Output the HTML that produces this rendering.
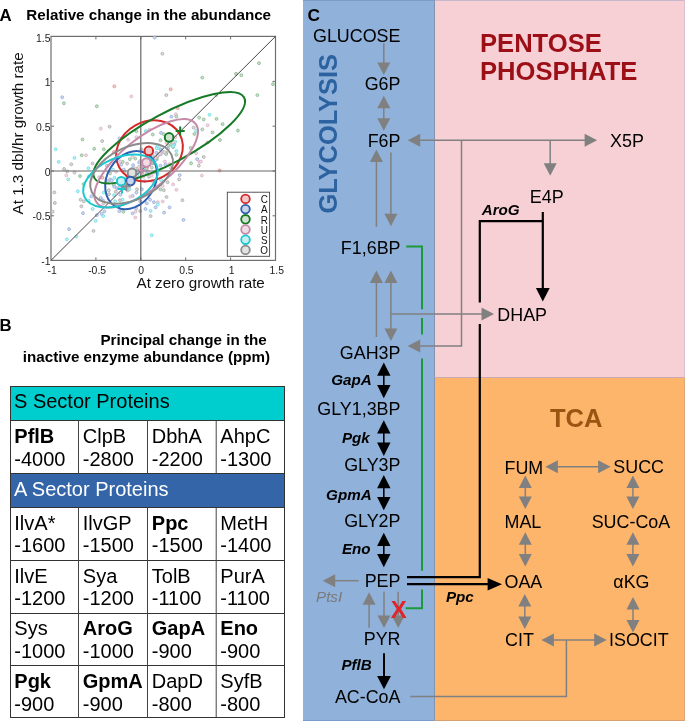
<!DOCTYPE html><html><head><meta charset="utf-8"><style>html,body{margin:0;padding:0;background:#fff;width:685px;height:721px;overflow:hidden}svg{display:block;will-change:transform;font-family:"Liberation Sans",sans-serif}</style></head><body>
<svg width="685" height="721" viewBox="0 0 685 721">
<rect x="303" y="0" width="131.5" height="721" fill="#8fb1da"/>
<rect x="434.5" y="0" width="250.5" height="377.5" fill="#f7d0d6"/>
<rect x="434.5" y="377.5" width="250.5" height="343.5" fill="#fdb46b"/>
<line x1="303.0" y1="0.5" x2="434.5" y2="0.5" stroke="#7a9cc8" stroke-width="1.00"/>
<line x1="434.5" y1="0.5" x2="684.0" y2="0.5" stroke="#c8b8cc" stroke-width="1.00"/>
<line x1="434.5" y1="0.0" x2="434.5" y2="721.0" stroke="#8294b0" stroke-width="1.00"/>
<line x1="434.5" y1="377.5" x2="684.0" y2="377.5" stroke="#c8aab0" stroke-width="1.00"/>
<line x1="684.5" y1="0.0" x2="684.5" y2="377.5" stroke="#dcc0cc" stroke-width="1.00"/>
<line x1="684.5" y1="377.5" x2="684.5" y2="721.0" stroke="#dca87a" stroke-width="1.00"/>
<line x1="303.0" y1="720.5" x2="434.5" y2="720.5" stroke="#7a9cc8" stroke-width="1.00"/>
<line x1="434.5" y1="720.5" x2="684.0" y2="720.5" stroke="#d8a070" stroke-width="1.00"/>
<text x="307.6" y="21.2" font-size="17.30" font-weight="bold" font-style="normal" fill="#000" text-anchor="start" >C</text>
<text transform="translate(336.8,213.6) rotate(-90)" font-size="25.5" font-weight="bold" fill="#2c629f">GLYCOLYSIS</text>
<text x="480.0" y="52.0" font-size="25.60" font-weight="bold" font-style="normal" fill="#9c0f17" text-anchor="start" >PENTOSE</text>
<text x="480.0" y="80.4" font-size="25.60" font-weight="bold" font-style="normal" fill="#9c0f17" text-anchor="start" >PHOSPHATE</text>
<text x="549.9" y="426.6" font-size="25.60" font-weight="bold" font-style="normal" fill="#9a5513" text-anchor="start" >TCA</text>
<text x="400.5" y="41.9" font-size="17.90" font-weight="normal" font-style="normal" fill="#000" text-anchor="end" >GLUCOSE</text>
<text x="400.5" y="90.3" font-size="17.90" font-weight="normal" font-style="normal" fill="#000" text-anchor="end" >G6P</text>
<text x="400.5" y="146.7" font-size="17.90" font-weight="normal" font-style="normal" fill="#000" text-anchor="end" >F6P</text>
<text x="400.5" y="253.6" font-size="17.90" font-weight="normal" font-style="normal" fill="#000" text-anchor="end" >F1,6BP</text>
<text x="400.5" y="358.5" font-size="17.90" font-weight="normal" font-style="normal" fill="#000" text-anchor="end" >GAH3P</text>
<text x="400.5" y="414.5" font-size="17.90" font-weight="normal" font-style="normal" fill="#000" text-anchor="end" >GLY1,3BP</text>
<text x="400.5" y="470.6" font-size="17.90" font-weight="normal" font-style="normal" fill="#000" text-anchor="end" >GLY3P</text>
<text x="400.5" y="526.9" font-size="17.90" font-weight="normal" font-style="normal" fill="#000" text-anchor="end" >GLY2P</text>
<text x="400.5" y="587.3" font-size="17.90" font-weight="normal" font-style="normal" fill="#000" text-anchor="end" >PEP</text>
<text x="400.5" y="645.2" font-size="17.90" font-weight="normal" font-style="normal" fill="#000" text-anchor="end" >PYR</text>
<text x="400.5" y="702.8" font-size="17.90" font-weight="normal" font-style="normal" fill="#000" text-anchor="end" >AC-CoA</text>
<text x="610.0" y="146.7" font-size="17.90" font-weight="normal" font-style="normal" fill="#000" text-anchor="start" >X5P</text>
<text x="529.8" y="203.4" font-size="17.90" font-weight="normal" font-style="normal" fill="#000" text-anchor="start" >E4P</text>
<text x="497.3" y="320.8" font-size="17.90" font-weight="normal" font-style="normal" fill="#000" text-anchor="start" >DHAP</text>
<text x="504.5" y="473.5" font-size="17.90" font-weight="normal" font-style="normal" fill="#000" text-anchor="start" >FUM</text>
<text x="613.3" y="472.8" font-size="17.90" font-weight="normal" font-style="normal" fill="#000" text-anchor="start" >SUCC</text>
<text x="504.5" y="527.5" font-size="17.90" font-weight="normal" font-style="normal" fill="#000" text-anchor="start" >MAL</text>
<text x="591.7" y="527.5" font-size="17.90" font-weight="normal" font-style="normal" fill="#000" text-anchor="start" >SUC-CoA</text>
<text x="504.5" y="587.8" font-size="17.90" font-weight="normal" font-style="normal" fill="#000" text-anchor="start" >OAA</text>
<text x="613.3" y="587.8" font-size="17.90" font-weight="normal" font-style="normal" fill="#000" text-anchor="start" >&#945;KG</text>
<text x="505.0" y="645.7" font-size="17.90" font-weight="normal" font-style="normal" fill="#000" text-anchor="start" >CIT</text>
<text x="609.0" y="645.7" font-size="17.90" font-weight="normal" font-style="normal" fill="#000" text-anchor="start" >ISOCIT</text>
<text x="481.7" y="215.0" font-size="15.20" font-weight="bold" font-style="italic" fill="#000" text-anchor="start" >AroG</text>
<text x="331.3" y="385.0" font-size="15.20" font-weight="bold" font-style="italic" fill="#000" text-anchor="start" >GapA</text>
<text x="341.9" y="443.0" font-size="15.20" font-weight="bold" font-style="italic" fill="#000" text-anchor="start" >Pgk</text>
<text x="326.1" y="499.9" font-size="15.20" font-weight="bold" font-style="italic" fill="#000" text-anchor="start" >GpmA</text>
<text x="341.9" y="554.4" font-size="15.20" font-weight="bold" font-style="italic" fill="#000" text-anchor="start" >Eno</text>
<text x="445.9" y="602.3" font-size="15.20" font-weight="bold" font-style="italic" fill="#000" text-anchor="start" >Ppc</text>
<text x="341.4" y="669.9" font-size="15.20" font-weight="bold" font-style="italic" fill="#000" text-anchor="start" >PflB</text>
<text x="316.0" y="601.5" font-size="15.20" font-weight="normal" font-style="italic" fill="#7a7a7a" text-anchor="start" >PtsI</text>
<line x1="383.8" y1="43.3" x2="383.8" y2="63.5" stroke="#808080" stroke-width="1.50"/><polygon points="383.8,75.0 377.3,62.5 390.3,62.5" fill="#808080"/>
<line x1="383.8" y1="107.3" x2="383.8" y2="119.3" stroke="#808080" stroke-width="1.50"/><polygon points="383.8,130.8 377.3,118.3 390.3,118.3" fill="#808080"/><polygon points="383.8,95.8 377.3,108.3 390.3,108.3" fill="#808080"/>
<line x1="376.4" y1="226.9" x2="376.4" y2="161.1" stroke="#808080" stroke-width="1.50"/><polygon points="376.4,149.6 369.9,162.1 382.9,162.1" fill="#808080"/>
<line x1="390.9" y1="152.4" x2="390.9" y2="214.7" stroke="#808080" stroke-width="1.50"/><polygon points="390.9,226.2 384.4,213.7 397.4,213.7" fill="#808080"/>
<line x1="376.4" y1="337.0" x2="376.4" y2="282.0" stroke="#808080" stroke-width="1.50"/><polygon points="376.4,270.5 369.9,283.0 382.9,283.0" fill="#808080"/>
<line x1="390.9" y1="282.0" x2="390.9" y2="329.5" stroke="#808080" stroke-width="1.50"/><polygon points="390.9,341.0 384.4,328.5 397.4,328.5" fill="#808080"/><polygon points="390.9,270.5 384.4,283.0 397.4,283.0" fill="#808080"/>
<line x1="390.9" y1="314.0" x2="482.5" y2="314.0" stroke="#808080" stroke-width="1.50"/><polygon points="494.0,314.0 481.5,307.5 481.5,320.5" fill="#808080"/>
<line x1="419.2" y1="140.3" x2="585.6" y2="140.3" stroke="#808080" stroke-width="1.50"/><polygon points="597.1,140.3 584.6,133.8 584.6,146.8" fill="#808080"/><polygon points="407.7,140.3 420.2,133.8 420.2,146.8" fill="#808080"/>
<line x1="461.5" y1="140.3" x2="461.5" y2="346.6" stroke="#808080" stroke-width="1.50"/>
<line x1="461.5" y1="346.0" x2="419.2" y2="346.0" stroke="#808080" stroke-width="1.50"/><polygon points="407.7,346.0 420.2,339.5 420.2,352.5" fill="#808080"/>
<line x1="550.2" y1="140.3" x2="550.2" y2="164.3" stroke="#808080" stroke-width="1.50"/><polygon points="550.2,175.8 543.7,163.3 556.7,163.3" fill="#808080"/>
<line x1="358.6" y1="580.7" x2="334.2" y2="580.7" stroke="#808080" stroke-width="1.50"/><polygon points="322.7,580.7 335.2,574.2 335.2,587.2" fill="#808080"/>
<line x1="369.1" y1="627.7" x2="369.1" y2="603.8" stroke="#808080" stroke-width="1.50"/><polygon points="369.1,592.3 362.6,604.8 375.6,604.8" fill="#808080"/>
<line x1="384.0" y1="591.8" x2="384.0" y2="616.5" stroke="#808080" stroke-width="1.50"/><polygon points="384.0,628.0 377.5,615.5 390.5,615.5" fill="#808080"/>
<line x1="398.2" y1="591.8" x2="398.2" y2="616.5" stroke="#808080" stroke-width="1.50"/><polygon points="398.2,628.0 391.7,615.5 404.7,615.5" fill="#808080"/>
<line x1="556.9" y1="466.8" x2="599.1" y2="466.8" stroke="#808080" stroke-width="1.50"/><polygon points="610.6,466.8 598.1,460.3 598.1,473.3" fill="#808080"/><polygon points="545.4,466.8 557.9,460.3 557.9,473.3" fill="#808080"/>
<line x1="525.3" y1="486.9" x2="525.3" y2="497.4" stroke="#808080" stroke-width="1.50"/><polygon points="525.3,508.9 518.8,496.4 531.8,496.4" fill="#808080"/><polygon points="525.3,475.4 518.8,487.9 531.8,487.9" fill="#808080"/>
<line x1="632.9" y1="486.9" x2="632.9" y2="497.4" stroke="#808080" stroke-width="1.50"/><polygon points="632.9,508.9 626.4,496.4 639.4,496.4" fill="#808080"/><polygon points="632.9,475.4 626.4,487.9 639.4,487.9" fill="#808080"/>
<line x1="525.3" y1="543.8" x2="525.3" y2="555.1" stroke="#808080" stroke-width="1.50"/><polygon points="525.3,566.6 518.8,554.1 531.8,554.1" fill="#808080"/><polygon points="525.3,532.3 518.8,544.8 531.8,544.8" fill="#808080"/>
<line x1="632.9" y1="543.8" x2="632.9" y2="555.1" stroke="#808080" stroke-width="1.50"/><polygon points="632.9,566.6 626.4,554.1 639.4,554.1" fill="#808080"/><polygon points="632.9,532.3 626.4,544.8 639.4,544.8" fill="#808080"/>
<line x1="524.8" y1="605.6" x2="524.8" y2="617.5" stroke="#808080" stroke-width="1.50"/><polygon points="524.8,629.0 518.3,616.5 531.3,616.5" fill="#808080"/><polygon points="524.8,594.1 518.3,606.6 531.3,606.6" fill="#808080"/>
<line x1="633.0" y1="608.5" x2="633.0" y2="620.9" stroke="#808080" stroke-width="1.50"/><polygon points="633.0,632.4 626.5,619.9 639.5,619.9" fill="#808080"/><polygon points="633.0,597.0 626.5,609.5 639.5,609.5" fill="#808080"/>
<line x1="552.9" y1="639.9" x2="595.2" y2="639.9" stroke="#808080" stroke-width="1.50"/><polygon points="606.7,639.9 594.2,633.4 594.2,646.4" fill="#808080"/><polygon points="541.4,639.9 553.9,633.4 553.9,646.4" fill="#808080"/>
<polyline points="410.3,696.4 566.4,696.4 566.4,639.9" fill="none" stroke="#808080" stroke-width="1.5"/>
<polyline points="406.2,246.6 422,246.6 422,309.3" fill="none" stroke="#1a9a3a" stroke-width="2"/>
<line x1="422.0" y1="318.0" x2="422.0" y2="334.4" stroke="#1a9a3a" stroke-width="2.00"/>
<line x1="422.0" y1="358.5" x2="422.0" y2="570.8" stroke="#1a9a3a" stroke-width="2.00"/>
<polyline points="422,589.6 422,608.3 405.6,608.3" fill="none" stroke="#1a9a3a" stroke-width="2"/>
<line x1="383.8" y1="374.8" x2="383.8" y2="385.9" stroke="#000" stroke-width="1.60"/><polygon points="383.8,398.2 377.1,384.9 390.5,384.9" fill="#000"/><polygon points="383.8,362.5 377.1,375.8 390.5,375.8" fill="#000"/>
<line x1="383.8" y1="432.5" x2="383.8" y2="443.6" stroke="#000" stroke-width="1.60"/><polygon points="383.8,455.9 377.1,442.6 390.5,442.6" fill="#000"/><polygon points="383.8,420.2 377.1,433.5 390.5,433.5" fill="#000"/>
<line x1="383.8" y1="487.3" x2="383.8" y2="497.9" stroke="#000" stroke-width="1.60"/><polygon points="383.8,510.2 377.1,496.9 390.5,496.9" fill="#000"/><polygon points="383.8,475.0 377.1,488.3 390.5,488.3" fill="#000"/>
<line x1="383.8" y1="545.0" x2="383.8" y2="555.0" stroke="#000" stroke-width="1.60"/><polygon points="383.8,567.3 377.1,554.0 390.5,554.0" fill="#000"/><polygon points="383.8,532.7 377.1,546.0 390.5,546.0" fill="#000"/>
<line x1="384.0" y1="653.3" x2="384.0" y2="677.0" stroke="#000" stroke-width="2.00"/><polygon points="384.0,689.2 377.1,676.0 390.9,676.0" fill="#000"/>
<line x1="542.8" y1="212.0" x2="542.8" y2="290.0" stroke="#000" stroke-width="2.20"/>
<polygon points="542.8,301.5 535.9,288.0 549.7,288.0" fill="#000"/>
<polyline points="542.8,221.2 479.8,221.2 479.8,302.4" fill="none" stroke="#000" stroke-width="2.2"/>
<polyline points="479.8,323.9 479.8,577.2 407,577.2" fill="none" stroke="#000" stroke-width="2.2"/>
<line x1="407.0" y1="584.2" x2="489.0" y2="584.2" stroke="#000" stroke-width="2.20"/>
<polygon points="502.0,584.2 487.6,577.9 487.6,590.5" fill="#000"/>
<text x="398.7" y="618.0" font-size="24.00" font-weight="bold" font-style="normal" fill="#e0242a" text-anchor="middle" >X</text>
<text x="-0.6" y="20.8" font-size="16.80" font-weight="bold" font-style="normal" fill="#000" text-anchor="start" >A</text>
<text x="26.3" y="20.1" font-size="15.20" font-weight="bold" font-style="normal" fill="#000" text-anchor="start" >Relative change in the abundance</text>
<rect x="51" y="36.4" width="224.5" height="224" fill="#fff" stroke="#6e6e6e" stroke-width="1.2"/>
<line x1="95.9" y1="260.4" x2="95.9" y2="257.4" stroke="#6e6e6e" stroke-width="1.00"/>
<line x1="95.9" y1="36.4" x2="95.9" y2="39.4" stroke="#6e6e6e" stroke-width="1.00"/>
<line x1="140.8" y1="260.4" x2="140.8" y2="257.4" stroke="#6e6e6e" stroke-width="1.00"/>
<line x1="140.8" y1="36.4" x2="140.8" y2="39.4" stroke="#6e6e6e" stroke-width="1.00"/>
<line x1="185.7" y1="260.4" x2="185.7" y2="257.4" stroke="#6e6e6e" stroke-width="1.00"/>
<line x1="185.7" y1="36.4" x2="185.7" y2="39.4" stroke="#6e6e6e" stroke-width="1.00"/>
<line x1="230.6" y1="260.4" x2="230.6" y2="257.4" stroke="#6e6e6e" stroke-width="1.00"/>
<line x1="230.6" y1="36.4" x2="230.6" y2="39.4" stroke="#6e6e6e" stroke-width="1.00"/>
<line x1="51.0" y1="215.8" x2="54.0" y2="215.8" stroke="#6e6e6e" stroke-width="1.00"/>
<line x1="275.5" y1="215.8" x2="272.5" y2="215.8" stroke="#6e6e6e" stroke-width="1.00"/>
<line x1="51.0" y1="171.0" x2="54.0" y2="171.0" stroke="#6e6e6e" stroke-width="1.00"/>
<line x1="275.5" y1="171.0" x2="272.5" y2="171.0" stroke="#6e6e6e" stroke-width="1.00"/>
<line x1="51.0" y1="126.2" x2="54.0" y2="126.2" stroke="#6e6e6e" stroke-width="1.00"/>
<line x1="275.5" y1="126.2" x2="272.5" y2="126.2" stroke="#6e6e6e" stroke-width="1.00"/>
<line x1="51.0" y1="81.4" x2="54.0" y2="81.4" stroke="#6e6e6e" stroke-width="1.00"/>
<line x1="275.5" y1="81.4" x2="272.5" y2="81.4" stroke="#6e6e6e" stroke-width="1.00"/>
<text x="50.5" y="41.6" font-size="10.40" font-weight="normal" font-style="normal" fill="#222" text-anchor="end" >1.5</text>
<text x="50.5" y="86.0" font-size="10.40" font-weight="normal" font-style="normal" fill="#222" text-anchor="end" >1</text>
<text x="50.5" y="130.8" font-size="10.40" font-weight="normal" font-style="normal" fill="#222" text-anchor="end" >0.5</text>
<text x="50.5" y="175.6" font-size="10.40" font-weight="normal" font-style="normal" fill="#222" text-anchor="end" >0</text>
<text x="50.5" y="220.4" font-size="10.40" font-weight="normal" font-style="normal" fill="#222" text-anchor="end" >-0.5</text>
<text x="50.5" y="265.2" font-size="10.40" font-weight="normal" font-style="normal" fill="#222" text-anchor="end" >-1</text>
<text x="52.2" y="274.1" font-size="10.40" font-weight="normal" font-style="normal" fill="#222" text-anchor="middle" >-1</text>
<text x="97.1" y="274.1" font-size="10.40" font-weight="normal" font-style="normal" fill="#222" text-anchor="middle" >-0.5</text>
<text x="141.2" y="274.1" font-size="10.40" font-weight="normal" font-style="normal" fill="#222" text-anchor="middle" >0</text>
<text x="186.4" y="274.1" font-size="10.40" font-weight="normal" font-style="normal" fill="#222" text-anchor="middle" >0.5</text>
<text x="231.6" y="274.1" font-size="10.40" font-weight="normal" font-style="normal" fill="#222" text-anchor="middle" >1</text>
<text x="276.8" y="274.1" font-size="10.40" font-weight="normal" font-style="normal" fill="#222" text-anchor="middle" >1.5</text>
<text x="136.5" y="288.2" font-size="15.20" font-weight="normal" font-style="normal" fill="#111" text-anchor="start" >At zero growth rate</text>
<text transform="translate(23,214.4) rotate(-90)" font-size="15.2" fill="#111">At 1.3 dbl/hr growth rate</text>
<g><circle cx="114.3" cy="86.4" r="1.45" fill="#f3cccc" stroke="#e29696" stroke-width="0.85"/><circle cx="62.2" cy="97.3" r="1.45" fill="#d0dbf0" stroke="#98aedc" stroke-width="0.85"/><circle cx="63.9" cy="103.3" r="1.45" fill="#c8e0cc" stroke="#8cbb95" stroke-width="0.85"/><circle cx="96.8" cy="106.3" r="1.45" fill="#c8e0cc" stroke="#8cbb95" stroke-width="0.85"/><circle cx="154.7" cy="37.6" r="1.45" fill="#d0dbf0" stroke="#98aedc" stroke-width="0.85"/><circle cx="162.4" cy="53.7" r="1.45" fill="#dcdcdc" stroke="#acacac" stroke-width="0.85"/><circle cx="170.7" cy="89.3" r="1.45" fill="#f3cccc" stroke="#e29696" stroke-width="0.85"/><circle cx="166.3" cy="95.1" r="1.45" fill="#dcdcdc" stroke="#acacac" stroke-width="0.85"/><circle cx="131.3" cy="96.4" r="1.45" fill="#f0dbe4" stroke="#ddb2c5" stroke-width="0.85"/><circle cx="177.7" cy="108.3" r="1.45" fill="#f3cccc" stroke="#e29696" stroke-width="0.85"/><circle cx="202.3" cy="77.6" r="1.45" fill="#c8e0cc" stroke="#8cbb95" stroke-width="0.85"/><circle cx="236.0" cy="73.8" r="1.45" fill="#c8e0cc" stroke="#8cbb95" stroke-width="0.85"/><circle cx="241.3" cy="75.2" r="1.45" fill="#c8e0cc" stroke="#8cbb95" stroke-width="0.85"/><circle cx="259.0" cy="63.2" r="1.45" fill="#c8e0cc" stroke="#8cbb95" stroke-width="0.85"/><circle cx="273.0" cy="84.2" r="1.45" fill="#c8e0cc" stroke="#8cbb95" stroke-width="0.85"/><circle cx="257.4" cy="95.1" r="1.45" fill="#c8e0cc" stroke="#8cbb95" stroke-width="0.85"/><circle cx="216.3" cy="95.1" r="1.45" fill="#c8e0cc" stroke="#8cbb95" stroke-width="0.85"/><circle cx="109.6" cy="126.7" r="1.45" fill="#dcdcdc" stroke="#acacac" stroke-width="0.85"/><circle cx="100.8" cy="128.7" r="1.45" fill="#f0dbe4" stroke="#ddb2c5" stroke-width="0.85"/><circle cx="119.4" cy="138.4" r="1.45" fill="#d0dbf0" stroke="#98aedc" stroke-width="0.85"/><circle cx="82.5" cy="139.5" r="1.45" fill="#c8e0cc" stroke="#8cbb95" stroke-width="0.85"/><circle cx="102.2" cy="141.1" r="1.45" fill="#dcdcdc" stroke="#acacac" stroke-width="0.85"/><circle cx="55.6" cy="149.3" r="1.45" fill="#c0f2f5" stroke="#70dde4" stroke-width="0.85"/><circle cx="94.2" cy="148.8" r="1.45" fill="#c8e0cc" stroke="#8cbb95" stroke-width="0.85"/><circle cx="103.8" cy="149.3" r="1.45" fill="#c8e0cc" stroke="#8cbb95" stroke-width="0.85"/><circle cx="81.7" cy="155.3" r="1.45" fill="#c8e0cc" stroke="#8cbb95" stroke-width="0.85"/><circle cx="86.0" cy="155.3" r="1.45" fill="#f0dbe4" stroke="#ddb2c5" stroke-width="0.85"/><circle cx="74.5" cy="157.9" r="1.45" fill="#c0f2f5" stroke="#70dde4" stroke-width="0.85"/><circle cx="58.7" cy="161.9" r="1.45" fill="#c0f2f5" stroke="#70dde4" stroke-width="0.85"/><circle cx="71.3" cy="164.3" r="1.45" fill="#dcdcdc" stroke="#acacac" stroke-width="0.85"/><circle cx="92.6" cy="163.6" r="1.45" fill="#dcdcdc" stroke="#acacac" stroke-width="0.85"/><circle cx="88.4" cy="168.3" r="1.45" fill="#c0f2f5" stroke="#70dde4" stroke-width="0.85"/><circle cx="64.1" cy="169.0" r="1.45" fill="#dcdcdc" stroke="#acacac" stroke-width="0.85"/><circle cx="67.2" cy="171.4" r="1.45" fill="#dcdcdc" stroke="#acacac" stroke-width="0.85"/><circle cx="74.5" cy="172.5" r="1.45" fill="#dcdcdc" stroke="#acacac" stroke-width="0.85"/><circle cx="66.3" cy="175.4" r="1.45" fill="#f0dbe4" stroke="#ddb2c5" stroke-width="0.85"/><circle cx="80.0" cy="176.1" r="1.45" fill="#c8e0cc" stroke="#8cbb95" stroke-width="0.85"/><circle cx="68.3" cy="179.4" r="1.45" fill="#c0f2f5" stroke="#70dde4" stroke-width="0.85"/><circle cx="83.6" cy="184.1" r="1.45" fill="#c8e0cc" stroke="#8cbb95" stroke-width="0.85"/><circle cx="114.0" cy="152.0" r="1.45" fill="#f3cccc" stroke="#e29696" stroke-width="0.85"/><circle cx="88.8" cy="176.7" r="1.45" fill="#c0f2f5" stroke="#70dde4" stroke-width="0.85"/><circle cx="110.1" cy="173.4" r="1.45" fill="#c8e0cc" stroke="#8cbb95" stroke-width="0.85"/><circle cx="116.1" cy="171.8" r="1.45" fill="#f0dbe4" stroke="#ddb2c5" stroke-width="0.85"/><circle cx="112.9" cy="169.6" r="1.45" fill="#c0f2f5" stroke="#70dde4" stroke-width="0.85"/><circle cx="106.8" cy="165.7" r="1.45" fill="#d0dbf0" stroke="#98aedc" stroke-width="0.85"/><circle cx="121.1" cy="164.7" r="1.45" fill="#d0dbf0" stroke="#98aedc" stroke-width="0.85"/><circle cx="122.7" cy="161.9" r="1.45" fill="#c8e0cc" stroke="#8cbb95" stroke-width="0.85"/><circle cx="120.0" cy="161.4" r="1.45" fill="#f0dbe4" stroke="#ddb2c5" stroke-width="0.85"/><circle cx="123.8" cy="169.6" r="1.45" fill="#d0dbf0" stroke="#98aedc" stroke-width="0.85"/><circle cx="99.2" cy="177.2" r="1.45" fill="#f0dbe4" stroke="#ddb2c5" stroke-width="0.85"/><circle cx="102.5" cy="177.8" r="1.45" fill="#f3cccc" stroke="#e29696" stroke-width="0.85"/><circle cx="110.1" cy="179.4" r="1.45" fill="#d0dbf0" stroke="#98aedc" stroke-width="0.85"/><circle cx="114.5" cy="177.8" r="1.45" fill="#c0f2f5" stroke="#70dde4" stroke-width="0.85"/><circle cx="107.9" cy="181.1" r="1.45" fill="#dcdcdc" stroke="#acacac" stroke-width="0.85"/><circle cx="111.8" cy="180.5" r="1.45" fill="#d0dbf0" stroke="#98aedc" stroke-width="0.85"/><circle cx="171.4" cy="116.7" r="1.45" fill="#d0dbf0" stroke="#98aedc" stroke-width="0.85"/><circle cx="175.8" cy="114.3" r="1.45" fill="#f0dbe4" stroke="#ddb2c5" stroke-width="0.85"/><circle cx="176.4" cy="116.5" r="1.45" fill="#c8e0cc" stroke="#8cbb95" stroke-width="0.85"/><circle cx="199.1" cy="117.6" r="1.45" fill="#c8e0cc" stroke="#8cbb95" stroke-width="0.85"/><circle cx="145.9" cy="131.0" r="1.45" fill="#c0f2f5" stroke="#70dde4" stroke-width="0.85"/><circle cx="149.5" cy="129.6" r="1.45" fill="#f0dbe4" stroke="#ddb2c5" stroke-width="0.85"/><circle cx="136.4" cy="131.3" r="1.45" fill="#c8e0cc" stroke="#8cbb95" stroke-width="0.85"/><circle cx="136.4" cy="137.1" r="1.45" fill="#f0dbe4" stroke="#ddb2c5" stroke-width="0.85"/><circle cx="152.8" cy="134.5" r="1.45" fill="#c8e0cc" stroke="#8cbb95" stroke-width="0.85"/><circle cx="161.0" cy="132.9" r="1.45" fill="#d0dbf0" stroke="#98aedc" stroke-width="0.85"/><circle cx="163.8" cy="134.2" r="1.45" fill="#c8e0cc" stroke="#8cbb95" stroke-width="0.85"/><circle cx="128.2" cy="139.7" r="1.45" fill="#f0dbe4" stroke="#ddb2c5" stroke-width="0.85"/><circle cx="160.5" cy="140.3" r="1.45" fill="#c8e0cc" stroke="#8cbb95" stroke-width="0.85"/><circle cx="175.3" cy="141.7" r="1.45" fill="#c0f2f5" stroke="#70dde4" stroke-width="0.85"/><circle cx="174.2" cy="144.4" r="1.45" fill="#c8e0cc" stroke="#8cbb95" stroke-width="0.85"/><circle cx="170.9" cy="144.9" r="1.45" fill="#c8e0cc" stroke="#8cbb95" stroke-width="0.85"/><circle cx="173.1" cy="147.1" r="1.45" fill="#c8e0cc" stroke="#8cbb95" stroke-width="0.85"/><circle cx="168.2" cy="145.5" r="1.45" fill="#c8e0cc" stroke="#8cbb95" stroke-width="0.85"/><circle cx="166.5" cy="142.8" r="1.45" fill="#f0dbe4" stroke="#ddb2c5" stroke-width="0.85"/><circle cx="157.2" cy="146.6" r="1.45" fill="#c0f2f5" stroke="#70dde4" stroke-width="0.85"/><circle cx="156.7" cy="148.2" r="1.45" fill="#c0f2f5" stroke="#70dde4" stroke-width="0.85"/><circle cx="166.5" cy="152.6" r="1.45" fill="#c8e0cc" stroke="#8cbb95" stroke-width="0.85"/><circle cx="176.4" cy="151.0" r="1.45" fill="#c0f2f5" stroke="#70dde4" stroke-width="0.85"/><circle cx="176.4" cy="154.8" r="1.45" fill="#c8e0cc" stroke="#8cbb95" stroke-width="0.85"/><circle cx="156.7" cy="159.2" r="1.45" fill="#c8e0cc" stroke="#8cbb95" stroke-width="0.85"/><circle cx="160.5" cy="165.7" r="1.45" fill="#d0dbf0" stroke="#98aedc" stroke-width="0.85"/><circle cx="164.9" cy="161.6" r="1.45" fill="#f0dbe4" stroke="#ddb2c5" stroke-width="0.85"/><circle cx="165.4" cy="164.7" r="1.45" fill="#d0dbf0" stroke="#98aedc" stroke-width="0.85"/><circle cx="169.2" cy="164.1" r="1.45" fill="#f0dbe4" stroke="#ddb2c5" stroke-width="0.85"/><circle cx="170.9" cy="167.9" r="1.45" fill="#f0dbe4" stroke="#ddb2c5" stroke-width="0.85"/><circle cx="190.6" cy="148.0" r="1.45" fill="#c8e0cc" stroke="#8cbb95" stroke-width="0.85"/><circle cx="196.1" cy="153.2" r="1.45" fill="#f0dbe4" stroke="#ddb2c5" stroke-width="0.85"/><circle cx="194.4" cy="134.0" r="1.45" fill="#c8e0cc" stroke="#8cbb95" stroke-width="0.85"/><circle cx="196.1" cy="130.7" r="1.45" fill="#c0f2f5" stroke="#70dde4" stroke-width="0.85"/><circle cx="197.2" cy="159.2" r="1.45" fill="#d0dbf0" stroke="#98aedc" stroke-width="0.85"/><circle cx="199.4" cy="161.9" r="1.45" fill="#f0dbe4" stroke="#ddb2c5" stroke-width="0.85"/><circle cx="198.8" cy="165.7" r="1.45" fill="#dcdcdc" stroke="#acacac" stroke-width="0.85"/><circle cx="191.1" cy="163.3" r="1.45" fill="#c8e0cc" stroke="#8cbb95" stroke-width="0.85"/><circle cx="179.7" cy="175.1" r="1.45" fill="#d0dbf0" stroke="#98aedc" stroke-width="0.85"/><circle cx="179.1" cy="179.4" r="1.45" fill="#dcdcdc" stroke="#acacac" stroke-width="0.85"/><circle cx="167.6" cy="182.2" r="1.45" fill="#dcdcdc" stroke="#acacac" stroke-width="0.85"/><circle cx="173.1" cy="184.4" r="1.45" fill="#f0dbe4" stroke="#ddb2c5" stroke-width="0.85"/><circle cx="161.0" cy="180.0" r="1.45" fill="#c0f2f5" stroke="#70dde4" stroke-width="0.85"/><circle cx="129.8" cy="159.2" r="1.45" fill="#c8e0cc" stroke="#8cbb95" stroke-width="0.85"/><circle cx="135.3" cy="158.6" r="1.45" fill="#c8e0cc" stroke="#8cbb95" stroke-width="0.85"/><circle cx="132.6" cy="157.0" r="1.45" fill="#f0dbe4" stroke="#ddb2c5" stroke-width="0.85"/><circle cx="133.1" cy="165.2" r="1.45" fill="#d0dbf0" stroke="#98aedc" stroke-width="0.85"/><circle cx="139.1" cy="162.5" r="1.45" fill="#d0dbf0" stroke="#98aedc" stroke-width="0.85"/><circle cx="127.1" cy="163.6" r="1.45" fill="#dcdcdc" stroke="#acacac" stroke-width="0.85"/><circle cx="136.9" cy="176.7" r="1.45" fill="#f0dbe4" stroke="#ddb2c5" stroke-width="0.85"/><circle cx="143.5" cy="176.7" r="1.45" fill="#f0dbe4" stroke="#ddb2c5" stroke-width="0.85"/><circle cx="144.6" cy="181.1" r="1.45" fill="#d0dbf0" stroke="#98aedc" stroke-width="0.85"/><circle cx="149.0" cy="176.7" r="1.45" fill="#dcdcdc" stroke="#acacac" stroke-width="0.85"/><circle cx="152.3" cy="181.1" r="1.45" fill="#f0dbe4" stroke="#ddb2c5" stroke-width="0.85"/><circle cx="151.7" cy="175.6" r="1.45" fill="#f0dbe4" stroke="#ddb2c5" stroke-width="0.85"/><circle cx="147.9" cy="171.2" r="1.45" fill="#f0dbe4" stroke="#ddb2c5" stroke-width="0.85"/><circle cx="146.8" cy="173.4" r="1.45" fill="#d0dbf0" stroke="#98aedc" stroke-width="0.85"/><circle cx="154.5" cy="172.3" r="1.45" fill="#dcdcdc" stroke="#acacac" stroke-width="0.85"/><circle cx="141.3" cy="149.3" r="1.45" fill="#dcdcdc" stroke="#acacac" stroke-width="0.85"/><circle cx="152.8" cy="155.9" r="1.45" fill="#d0dbf0" stroke="#98aedc" stroke-width="0.85"/><circle cx="147.9" cy="156.4" r="1.45" fill="#d0dbf0" stroke="#98aedc" stroke-width="0.85"/><circle cx="209.5" cy="114.8" r="1.45" fill="#c0f2f5" stroke="#70dde4" stroke-width="0.85"/><circle cx="203.7" cy="119.5" r="1.45" fill="#c8e0cc" stroke="#8cbb95" stroke-width="0.85"/><circle cx="216.5" cy="118.9" r="1.45" fill="#c8e0cc" stroke="#8cbb95" stroke-width="0.85"/><circle cx="222.6" cy="124.1" r="1.45" fill="#c8e0cc" stroke="#8cbb95" stroke-width="0.85"/><circle cx="207.6" cy="125.2" r="1.45" fill="#f0dbe4" stroke="#ddb2c5" stroke-width="0.85"/><circle cx="202.3" cy="129.4" r="1.45" fill="#c8e0cc" stroke="#8cbb95" stroke-width="0.85"/><circle cx="212.5" cy="132.4" r="1.45" fill="#c8e0cc" stroke="#8cbb95" stroke-width="0.85"/><circle cx="237.9" cy="130.5" r="1.45" fill="#c8e0cc" stroke="#8cbb95" stroke-width="0.85"/><circle cx="219.9" cy="140.0" r="1.45" fill="#c8e0cc" stroke="#8cbb95" stroke-width="0.85"/><circle cx="207.6" cy="142.5" r="1.45" fill="#f3cccc" stroke="#e29696" stroke-width="0.85"/><circle cx="203.7" cy="157.0" r="1.45" fill="#dcdcdc" stroke="#acacac" stroke-width="0.85"/><circle cx="219.6" cy="170.5" r="1.45" fill="#f3cccc" stroke="#e29696" stroke-width="0.85"/><circle cx="201.9" cy="175.6" r="1.45" fill="#f0dbe4" stroke="#ddb2c5" stroke-width="0.85"/><circle cx="201.0" cy="161.6" r="1.45" fill="#f0dbe4" stroke="#ddb2c5" stroke-width="0.85"/><circle cx="54.3" cy="192.4" r="1.45" fill="#dcdcdc" stroke="#acacac" stroke-width="0.85"/><circle cx="77.8" cy="191.3" r="1.45" fill="#c0f2f5" stroke="#70dde4" stroke-width="0.85"/><circle cx="54.8" cy="203.0" r="1.45" fill="#dcdcdc" stroke="#acacac" stroke-width="0.85"/><circle cx="80.6" cy="199.7" r="1.45" fill="#dcdcdc" stroke="#acacac" stroke-width="0.85"/><circle cx="83.8" cy="201.3" r="1.45" fill="#dcdcdc" stroke="#acacac" stroke-width="0.85"/><circle cx="88.8" cy="200.8" r="1.45" fill="#c0f2f5" stroke="#70dde4" stroke-width="0.85"/><circle cx="91.3" cy="196.4" r="1.45" fill="#d0dbf0" stroke="#98aedc" stroke-width="0.85"/><circle cx="81.4" cy="206.3" r="1.45" fill="#dcdcdc" stroke="#acacac" stroke-width="0.85"/><circle cx="52.6" cy="211.7" r="1.45" fill="#dcdcdc" stroke="#acacac" stroke-width="0.85"/><circle cx="83.0" cy="213.2" r="1.45" fill="#d0dbf0" stroke="#98aedc" stroke-width="0.85"/><circle cx="92.6" cy="209.0" r="1.45" fill="#c0f2f5" stroke="#70dde4" stroke-width="0.85"/><circle cx="96.8" cy="215.3" r="1.45" fill="#d0dbf0" stroke="#98aedc" stroke-width="0.85"/><circle cx="95.7" cy="220.8" r="1.45" fill="#c0f2f5" stroke="#70dde4" stroke-width="0.85"/><circle cx="101.6" cy="213.9" r="1.45" fill="#d0dbf0" stroke="#98aedc" stroke-width="0.85"/><circle cx="103.3" cy="216.1" r="1.45" fill="#c0f2f5" stroke="#70dde4" stroke-width="0.85"/><circle cx="104.4" cy="211.4" r="1.45" fill="#d0dbf0" stroke="#98aedc" stroke-width="0.85"/><circle cx="100.8" cy="198.0" r="1.45" fill="#d0dbf0" stroke="#98aedc" stroke-width="0.85"/><circle cx="103.6" cy="192.6" r="1.45" fill="#c0f2f5" stroke="#70dde4" stroke-width="0.85"/><circle cx="69.1" cy="229.2" r="1.45" fill="#d0dbf0" stroke="#98aedc" stroke-width="0.85"/><circle cx="93.5" cy="230.9" r="1.45" fill="#dcdcdc" stroke="#acacac" stroke-width="0.85"/><circle cx="76.4" cy="236.6" r="1.45" fill="#c0f2f5" stroke="#70dde4" stroke-width="0.85"/><circle cx="66.9" cy="239.4" r="1.45" fill="#c0f2f5" stroke="#70dde4" stroke-width="0.85"/><circle cx="119.4" cy="211.2" r="1.45" fill="#d0dbf0" stroke="#98aedc" stroke-width="0.85"/><circle cx="123.3" cy="211.7" r="1.45" fill="#c8e0cc" stroke="#8cbb95" stroke-width="0.85"/><circle cx="109.0" cy="194.2" r="1.45" fill="#dcdcdc" stroke="#acacac" stroke-width="0.85"/><circle cx="115.1" cy="201.3" r="1.45" fill="#c0f2f5" stroke="#70dde4" stroke-width="0.85"/><circle cx="122.7" cy="199.7" r="1.45" fill="#c0f2f5" stroke="#70dde4" stroke-width="0.85"/><circle cx="120.0" cy="200.2" r="1.45" fill="#dcdcdc" stroke="#acacac" stroke-width="0.85"/><circle cx="120.5" cy="194.8" r="1.45" fill="#d0dbf0" stroke="#98aedc" stroke-width="0.85"/><circle cx="114.0" cy="195.3" r="1.45" fill="#c0f2f5" stroke="#70dde4" stroke-width="0.85"/><circle cx="137.0" cy="189.3" r="1.45" fill="#dcdcdc" stroke="#acacac" stroke-width="0.85"/><circle cx="141.9" cy="189.3" r="1.45" fill="#d0dbf0" stroke="#98aedc" stroke-width="0.85"/><circle cx="160.5" cy="189.5" r="1.45" fill="#c8e0cc" stroke="#8cbb95" stroke-width="0.85"/><circle cx="163.8" cy="190.2" r="1.45" fill="#dcdcdc" stroke="#acacac" stroke-width="0.85"/><circle cx="176.4" cy="189.8" r="1.45" fill="#f0dbe4" stroke="#ddb2c5" stroke-width="0.85"/><circle cx="162.7" cy="186.0" r="1.45" fill="#f0dbe4" stroke="#ddb2c5" stroke-width="0.85"/><circle cx="166.5" cy="197.0" r="1.45" fill="#dcdcdc" stroke="#acacac" stroke-width="0.85"/><circle cx="182.4" cy="200.2" r="1.45" fill="#dcdcdc" stroke="#acacac" stroke-width="0.85"/><circle cx="162.7" cy="201.5" r="1.45" fill="#f0dbe4" stroke="#ddb2c5" stroke-width="0.85"/><circle cx="136.4" cy="192.6" r="1.45" fill="#d0dbf0" stroke="#98aedc" stroke-width="0.85"/><circle cx="132.6" cy="195.9" r="1.45" fill="#d0dbf0" stroke="#98aedc" stroke-width="0.85"/><circle cx="130.4" cy="196.7" r="1.45" fill="#f0dbe4" stroke="#ddb2c5" stroke-width="0.85"/><circle cx="140.2" cy="201.3" r="1.45" fill="#d0dbf0" stroke="#98aedc" stroke-width="0.85"/><circle cx="150.1" cy="199.7" r="1.45" fill="#d0dbf0" stroke="#98aedc" stroke-width="0.85"/><circle cx="146.8" cy="203.3" r="1.45" fill="#d0dbf0" stroke="#98aedc" stroke-width="0.85"/><circle cx="153.9" cy="202.2" r="1.45" fill="#d0dbf0" stroke="#98aedc" stroke-width="0.85"/><circle cx="157.8" cy="202.2" r="1.45" fill="#f0dbe4" stroke="#ddb2c5" stroke-width="0.85"/><circle cx="157.8" cy="204.4" r="1.45" fill="#c0f2f5" stroke="#70dde4" stroke-width="0.85"/><circle cx="155.6" cy="207.4" r="1.45" fill="#d0dbf0" stroke="#98aedc" stroke-width="0.85"/><circle cx="169.6" cy="207.4" r="1.45" fill="#d0dbf0" stroke="#98aedc" stroke-width="0.85"/><circle cx="145.5" cy="209.0" r="1.45" fill="#d0dbf0" stroke="#98aedc" stroke-width="0.85"/><circle cx="136.1" cy="208.4" r="1.45" fill="#d0dbf0" stroke="#98aedc" stroke-width="0.85"/><circle cx="135.6" cy="211.7" r="1.45" fill="#f0dbe4" stroke="#ddb2c5" stroke-width="0.85"/><circle cx="132.6" cy="213.4" r="1.45" fill="#d0dbf0" stroke="#98aedc" stroke-width="0.85"/><circle cx="140.2" cy="211.0" r="1.45" fill="#dcdcdc" stroke="#acacac" stroke-width="0.85"/><circle cx="150.6" cy="211.0" r="1.45" fill="#c0f2f5" stroke="#70dde4" stroke-width="0.85"/><circle cx="164.1" cy="212.6" r="1.45" fill="#d0dbf0" stroke="#98aedc" stroke-width="0.85"/><circle cx="135.3" cy="217.5" r="1.45" fill="#f0dbe4" stroke="#ddb2c5" stroke-width="0.85"/><circle cx="150.6" cy="216.1" r="1.45" fill="#dcdcdc" stroke="#acacac" stroke-width="0.85"/><circle cx="183.5" cy="219.9" r="1.45" fill="#d0dbf0" stroke="#98aedc" stroke-width="0.85"/><circle cx="151.7" cy="235.3" r="1.45" fill="#c0f2f5" stroke="#70dde4" stroke-width="0.85"/><circle cx="129.3" cy="189.3" r="1.45" fill="#c0f2f5" stroke="#70dde4" stroke-width="0.85"/><circle cx="127.6" cy="190.4" r="1.45" fill="#dcdcdc" stroke="#acacac" stroke-width="0.85"/><circle cx="129.8" cy="179.9" r="1.45" fill="#c0f2f5" stroke="#70dde4" stroke-width="0.85"/><circle cx="153.0" cy="163.4" r="1.45" fill="#c8e0cc" stroke="#8cbb95" stroke-width="0.85"/><circle cx="153.9" cy="162.3" r="1.45" fill="#f3cccc" stroke="#e29696" stroke-width="0.85"/><circle cx="130.9" cy="177.7" r="1.45" fill="#d0dbf0" stroke="#98aedc" stroke-width="0.85"/><circle cx="103.0" cy="200.5" r="1.45" fill="#d0dbf0" stroke="#98aedc" stroke-width="0.85"/><circle cx="131.7" cy="182.1" r="1.45" fill="#dcdcdc" stroke="#acacac" stroke-width="0.85"/><circle cx="126.2" cy="178.5" r="1.45" fill="#dcdcdc" stroke="#acacac" stroke-width="0.85"/><circle cx="166.2" cy="154.1" r="1.45" fill="#c8e0cc" stroke="#8cbb95" stroke-width="0.85"/><circle cx="140.4" cy="171.9" r="1.45" fill="#c8e0cc" stroke="#8cbb95" stroke-width="0.85"/><circle cx="146.7" cy="163.5" r="1.45" fill="#f0dbe4" stroke="#ddb2c5" stroke-width="0.85"/><circle cx="132.9" cy="172.7" r="1.45" fill="#f0dbe4" stroke="#ddb2c5" stroke-width="0.85"/><circle cx="142.6" cy="169.3" r="1.45" fill="#d0dbf0" stroke="#98aedc" stroke-width="0.85"/><circle cx="137.4" cy="168.5" r="1.45" fill="#c8e0cc" stroke="#8cbb95" stroke-width="0.85"/><circle cx="126.0" cy="178.3" r="1.45" fill="#c8e0cc" stroke="#8cbb95" stroke-width="0.85"/><circle cx="156.4" cy="152.8" r="1.45" fill="#d0dbf0" stroke="#98aedc" stroke-width="0.85"/><circle cx="123.4" cy="180.2" r="1.45" fill="#dcdcdc" stroke="#acacac" stroke-width="0.85"/><circle cx="142.3" cy="165.7" r="1.45" fill="#dcdcdc" stroke="#acacac" stroke-width="0.85"/><circle cx="145.9" cy="169.2" r="1.45" fill="#c0f2f5" stroke="#70dde4" stroke-width="0.85"/><circle cx="142.4" cy="172.6" r="1.45" fill="#f3cccc" stroke="#e29696" stroke-width="0.85"/><circle cx="134.7" cy="168.4" r="1.45" fill="#f0dbe4" stroke="#ddb2c5" stroke-width="0.85"/><circle cx="153.1" cy="158.7" r="1.45" fill="#c0f2f5" stroke="#70dde4" stroke-width="0.85"/><circle cx="124.7" cy="178.5" r="1.45" fill="#f0dbe4" stroke="#ddb2c5" stroke-width="0.85"/><circle cx="175.2" cy="137.2" r="1.45" fill="#f0dbe4" stroke="#ddb2c5" stroke-width="0.85"/><circle cx="137.1" cy="171.4" r="1.45" fill="#c0f2f5" stroke="#70dde4" stroke-width="0.85"/><circle cx="124.1" cy="171.8" r="1.45" fill="#dcdcdc" stroke="#acacac" stroke-width="0.85"/><circle cx="127.2" cy="183.6" r="1.45" fill="#c0f2f5" stroke="#70dde4" stroke-width="0.85"/><circle cx="155.7" cy="159.9" r="1.45" fill="#d0dbf0" stroke="#98aedc" stroke-width="0.85"/><circle cx="140.7" cy="171.0" r="1.45" fill="#c0f2f5" stroke="#70dde4" stroke-width="0.85"/><circle cx="142.8" cy="170.8" r="1.45" fill="#c8e0cc" stroke="#8cbb95" stroke-width="0.85"/><circle cx="145.1" cy="165.7" r="1.45" fill="#f0dbe4" stroke="#ddb2c5" stroke-width="0.85"/><circle cx="108.8" cy="190.3" r="1.45" fill="#dcdcdc" stroke="#acacac" stroke-width="0.85"/><circle cx="151.6" cy="159.8" r="1.45" fill="#c8e0cc" stroke="#8cbb95" stroke-width="0.85"/><circle cx="103.5" cy="203.2" r="1.45" fill="#dcdcdc" stroke="#acacac" stroke-width="0.85"/><circle cx="140.5" cy="172.3" r="1.45" fill="#d0dbf0" stroke="#98aedc" stroke-width="0.85"/><circle cx="131.5" cy="181.2" r="1.45" fill="#f0dbe4" stroke="#ddb2c5" stroke-width="0.85"/><circle cx="137.2" cy="172.9" r="1.45" fill="#c8e0cc" stroke="#8cbb95" stroke-width="0.85"/><circle cx="115.8" cy="191.7" r="1.45" fill="#dcdcdc" stroke="#acacac" stroke-width="0.85"/><circle cx="138.8" cy="166.9" r="1.45" fill="#f0dbe4" stroke="#ddb2c5" stroke-width="0.85"/><circle cx="137.7" cy="171.0" r="1.45" fill="#dcdcdc" stroke="#acacac" stroke-width="0.85"/><circle cx="159.4" cy="148.6" r="1.45" fill="#c0f2f5" stroke="#70dde4" stroke-width="0.85"/><circle cx="119.8" cy="187.6" r="1.45" fill="#d0dbf0" stroke="#98aedc" stroke-width="0.85"/><circle cx="135.9" cy="172.4" r="1.45" fill="#d0dbf0" stroke="#98aedc" stroke-width="0.85"/><circle cx="136.3" cy="175.5" r="1.45" fill="#c8e0cc" stroke="#8cbb95" stroke-width="0.85"/><circle cx="138.3" cy="171.8" r="1.45" fill="#d0dbf0" stroke="#98aedc" stroke-width="0.85"/><circle cx="146.9" cy="167.9" r="1.45" fill="#f3cccc" stroke="#e29696" stroke-width="0.85"/><circle cx="162.0" cy="150.9" r="1.45" fill="#d0dbf0" stroke="#98aedc" stroke-width="0.85"/><circle cx="130.9" cy="180.8" r="1.45" fill="#c8e0cc" stroke="#8cbb95" stroke-width="0.85"/><circle cx="151.8" cy="167.6" r="1.45" fill="#dcdcdc" stroke="#acacac" stroke-width="0.85"/><circle cx="116.9" cy="188.1" r="1.45" fill="#d0dbf0" stroke="#98aedc" stroke-width="0.85"/><circle cx="146.5" cy="168.1" r="1.45" fill="#c8e0cc" stroke="#8cbb95" stroke-width="0.85"/><circle cx="146.7" cy="163.7" r="1.45" fill="#f3cccc" stroke="#e29696" stroke-width="0.85"/><circle cx="160.8" cy="154.2" r="1.45" fill="#d0dbf0" stroke="#98aedc" stroke-width="0.85"/><circle cx="134.6" cy="174.2" r="1.45" fill="#f0dbe4" stroke="#ddb2c5" stroke-width="0.85"/><circle cx="173.9" cy="145.2" r="1.45" fill="#c0f2f5" stroke="#70dde4" stroke-width="0.85"/><circle cx="129.8" cy="181.7" r="1.45" fill="#d0dbf0" stroke="#98aedc" stroke-width="0.85"/><circle cx="150.0" cy="158.5" r="1.45" fill="#c0f2f5" stroke="#70dde4" stroke-width="0.85"/><circle cx="127.5" cy="182.0" r="1.45" fill="#c0f2f5" stroke="#70dde4" stroke-width="0.85"/><circle cx="172.8" cy="146.4" r="1.45" fill="#c0f2f5" stroke="#70dde4" stroke-width="0.85"/><circle cx="160.8" cy="149.6" r="1.45" fill="#d0dbf0" stroke="#98aedc" stroke-width="0.85"/><circle cx="122.8" cy="182.5" r="1.45" fill="#f3cccc" stroke="#e29696" stroke-width="0.85"/><circle cx="150.6" cy="163.5" r="1.45" fill="#c8e0cc" stroke="#8cbb95" stroke-width="0.85"/><circle cx="140.2" cy="160.9" r="1.45" fill="#f0dbe4" stroke="#ddb2c5" stroke-width="0.85"/><circle cx="193.6" cy="127.6" r="1.45" fill="#dcdcdc" stroke="#acacac" stroke-width="0.85"/><circle cx="126.1" cy="182.7" r="1.45" fill="#d0dbf0" stroke="#98aedc" stroke-width="0.85"/><circle cx="137.1" cy="175.2" r="1.45" fill="#f0dbe4" stroke="#ddb2c5" stroke-width="0.85"/><circle cx="173.0" cy="142.4" r="1.45" fill="#f0dbe4" stroke="#ddb2c5" stroke-width="0.85"/><circle cx="131.3" cy="170.8" r="1.45" fill="#d0dbf0" stroke="#98aedc" stroke-width="0.85"/><circle cx="131.8" cy="169.0" r="1.45" fill="#c0f2f5" stroke="#70dde4" stroke-width="0.85"/><circle cx="146.5" cy="161.3" r="1.45" fill="#d0dbf0" stroke="#98aedc" stroke-width="0.85"/><circle cx="148.2" cy="161.2" r="1.45" fill="#c0f2f5" stroke="#70dde4" stroke-width="0.85"/><circle cx="156.3" cy="158.2" r="1.45" fill="#c8e0cc" stroke="#8cbb95" stroke-width="0.85"/><circle cx="168.0" cy="148.4" r="1.45" fill="#d0dbf0" stroke="#98aedc" stroke-width="0.85"/><circle cx="141.8" cy="170.9" r="1.45" fill="#dcdcdc" stroke="#acacac" stroke-width="0.85"/><circle cx="145.3" cy="164.7" r="1.45" fill="#dcdcdc" stroke="#acacac" stroke-width="0.85"/><circle cx="164.3" cy="152.5" r="1.45" fill="#c8e0cc" stroke="#8cbb95" stroke-width="0.85"/><circle cx="130.5" cy="176.7" r="1.45" fill="#f3cccc" stroke="#e29696" stroke-width="0.85"/><circle cx="164.4" cy="152.1" r="1.45" fill="#f0dbe4" stroke="#ddb2c5" stroke-width="0.85"/><circle cx="157.9" cy="156.0" r="1.45" fill="#dcdcdc" stroke="#acacac" stroke-width="0.85"/><circle cx="148.0" cy="162.4" r="1.45" fill="#c8e0cc" stroke="#8cbb95" stroke-width="0.85"/><circle cx="129.3" cy="181.1" r="1.45" fill="#f0dbe4" stroke="#ddb2c5" stroke-width="0.85"/><circle cx="129.2" cy="182.5" r="1.45" fill="#d0dbf0" stroke="#98aedc" stroke-width="0.85"/><circle cx="155.3" cy="157.6" r="1.45" fill="#f0dbe4" stroke="#ddb2c5" stroke-width="0.85"/><circle cx="113.9" cy="184.9" r="1.45" fill="#c8e0cc" stroke="#8cbb95" stroke-width="0.85"/><circle cx="159.9" cy="153.9" r="1.45" fill="#f0dbe4" stroke="#ddb2c5" stroke-width="0.85"/><circle cx="134.9" cy="174.1" r="1.45" fill="#f0dbe4" stroke="#ddb2c5" stroke-width="0.85"/><circle cx="138.0" cy="172.3" r="1.45" fill="#c0f2f5" stroke="#70dde4" stroke-width="0.85"/><circle cx="139.7" cy="174.8" r="1.45" fill="#c0f2f5" stroke="#70dde4" stroke-width="0.85"/><circle cx="126.0" cy="179.3" r="1.45" fill="#f0dbe4" stroke="#ddb2c5" stroke-width="0.85"/><circle cx="114.2" cy="186.6" r="1.45" fill="#d0dbf0" stroke="#98aedc" stroke-width="0.85"/><circle cx="128.0" cy="178.0" r="1.45" fill="#c8e0cc" stroke="#8cbb95" stroke-width="0.85"/></g>
<line x1="140.8" y1="36.4" x2="140.8" y2="260.4" stroke="#666" stroke-width="1.20"/>
<line x1="51.0" y1="171.0" x2="275.5" y2="171.0" stroke="#666" stroke-width="1.20"/>
<line x1="51.0" y1="260.4" x2="275.5" y2="36.4" stroke="#444" stroke-width="1.00"/>
<ellipse cx="149.5" cy="150.9" rx="34.5" ry="29.2" transform="rotate(-28.9 149.5 150.9)" fill="none" stroke="#d42a2a" stroke-width="2"/>
<ellipse cx="131.1" cy="180.1" rx="30.6" ry="24.0" transform="rotate(-58.8 131.1 180.1)" fill="none" stroke="#2f5fb0" stroke-width="2"/>
<ellipse cx="169.2" cy="137.7" rx="85.0" ry="24.5" transform="rotate(-28.2 169.2 137.7)" fill="none" stroke="#157a25" stroke-width="2"/>
<ellipse cx="146.2" cy="163.3" rx="63.2" ry="25.0" transform="rotate(-38.8 146.2 163.3)" fill="none" stroke="#c58aa8" stroke-width="2"/>
<ellipse cx="120.5" cy="181.0" rx="39.4" ry="23.3" transform="rotate(-23.4 120.5 181.0)" fill="none" stroke="#1cc8d0" stroke-width="2"/>
<ellipse cx="131.6" cy="173.3" rx="44.0" ry="26.3" transform="rotate(-25.4 131.6 173.3)" fill="none" stroke="#8a8a8a" stroke-width="2"/>
<circle cx="148.8" cy="150.9" r="4.3" fill="#f3c8c8" stroke="#d42a2a" stroke-width="2"/>
<circle cx="146.4" cy="162.6" r="4.3" fill="#f0dce6" stroke="#c58aa8" stroke-width="2"/>
<circle cx="169.1" cy="137.4" r="4.3" fill="#cfe3d0" stroke="#157a25" stroke-width="2"/>
<circle cx="132.0" cy="172.9" r="4.3" fill="#e2e2e2" stroke="#8a8a8a" stroke-width="2"/>
<circle cx="121.2" cy="181.3" r="4.3" fill="#c8f0f2" stroke="#1cc8d0" stroke-width="2"/>
<circle cx="130.5" cy="181.1" r="4.3" fill="#c8d4ea" stroke="#2f5fb0" stroke-width="2"/>
<path d="M175.7 130.9h9M180.2 126.4v9" stroke="#157a25" stroke-width="2" fill="none"/>
<path d="M137.0 170.5h9M141.5 166.0v9" stroke="#c58aa8" stroke-width="2" fill="none"/>
<path d="M117.5 188.9h9M122.0 184.4v9" stroke="#1cc8d0" stroke-width="2" fill="none"/>
<path d="M121.9 186.4h9M126.4 181.9v9" stroke="#8a8a8a" stroke-width="2" fill="none"/>
<rect x="227.3" y="192.2" width="42.3" height="64.1" fill="#fff" stroke="#444" stroke-width="0.9"/>
<circle cx="245.5" cy="198.9" r="4.3" fill="#f3c8c8" stroke="#d42a2a" stroke-width="1.8"/>
<text transform="translate(264.2 203.1) scale(0.84 1)" font-size="11.8" fill="#111" text-anchor="middle">C</text>
<circle cx="245.5" cy="209.1" r="4.3" fill="#c8d4ea" stroke="#2f5fb0" stroke-width="1.8"/>
<text transform="translate(264.2 213.3) scale(0.84 1)" font-size="11.8" fill="#111" text-anchor="middle">A</text>
<circle cx="245.5" cy="219.3" r="4.3" fill="#cfe3d0" stroke="#157a25" stroke-width="1.8"/>
<text transform="translate(264.2 223.5) scale(0.84 1)" font-size="11.8" fill="#111" text-anchor="middle">R</text>
<circle cx="245.5" cy="229.5" r="4.3" fill="#f0dce6" stroke="#c58aa8" stroke-width="1.8"/>
<text transform="translate(264.2 233.7) scale(0.84 1)" font-size="11.8" fill="#111" text-anchor="middle">U</text>
<circle cx="245.5" cy="239.7" r="4.3" fill="#c8f0f2" stroke="#1cc8d0" stroke-width="1.8"/>
<text transform="translate(264.2 243.9) scale(0.84 1)" font-size="11.8" fill="#111" text-anchor="middle">S</text>
<circle cx="245.5" cy="249.9" r="4.3" fill="#e2e2e2" stroke="#8a8a8a" stroke-width="1.8"/>
<text transform="translate(264.2 254.1) scale(0.84 1)" font-size="11.8" fill="#111" text-anchor="middle">O</text>
<text x="-0.6" y="331.2" font-size="16.80" font-weight="bold" font-style="normal" fill="#000" text-anchor="start" >B</text>
<text x="266.7" y="344.9" font-size="15.20" font-weight="bold" font-style="normal" fill="#000" text-anchor="end" >Principal change in the</text>
<text x="270.1" y="361.9" font-size="15.20" font-weight="bold" font-style="normal" fill="#000" text-anchor="end" >inactive enzyme abundance (ppm)</text>
<rect x="10" y="386.5" width="275" height="34" fill="#00cdcd"/>
<rect x="10" y="473.5" width="275" height="34" fill="#3465a8"/>
<text x="14.0" y="408.0" font-size="20.00" font-weight="normal" font-style="normal" fill="#000" text-anchor="start" >S Sector Proteins</text>
<text x="14.0" y="495.6" font-size="20.00" font-weight="normal" font-style="normal" fill="#fff" text-anchor="start" >A Sector Proteins</text>
<text x="14.3" y="443.2" font-size="20.00" font-weight="bold" font-style="normal" fill="#000" text-anchor="start" >PflB</text>
<text x="14.3" y="465.7" font-size="20.00" font-weight="normal" font-style="normal" fill="#000" text-anchor="start" >-4000</text>
<text x="82.8" y="443.2" font-size="20.00" font-weight="normal" font-style="normal" fill="#000" text-anchor="start" >ClpB</text>
<text x="82.8" y="465.7" font-size="20.00" font-weight="normal" font-style="normal" fill="#000" text-anchor="start" >-2800</text>
<text x="151.8" y="443.2" font-size="20.00" font-weight="normal" font-style="normal" fill="#000" text-anchor="start" >DbhA</text>
<text x="151.8" y="465.7" font-size="20.00" font-weight="normal" font-style="normal" fill="#000" text-anchor="start" >-2200</text>
<text x="220.3" y="443.2" font-size="20.00" font-weight="normal" font-style="normal" fill="#000" text-anchor="start" >AhpC</text>
<text x="220.3" y="465.7" font-size="20.00" font-weight="normal" font-style="normal" fill="#000" text-anchor="start" >-1300</text>
<text x="14.3" y="529.5" font-size="20.00" font-weight="normal" font-style="normal" fill="#000" text-anchor="start" >IlvA*</text>
<text x="14.3" y="552.0" font-size="20.00" font-weight="normal" font-style="normal" fill="#000" text-anchor="start" >-1600</text>
<text x="82.8" y="529.5" font-size="20.00" font-weight="normal" font-style="normal" fill="#000" text-anchor="start" >IlvGP</text>
<text x="82.8" y="552.0" font-size="20.00" font-weight="normal" font-style="normal" fill="#000" text-anchor="start" >-1500</text>
<text x="151.8" y="529.5" font-size="20.00" font-weight="bold" font-style="normal" fill="#000" text-anchor="start" >Ppc</text>
<text x="151.8" y="552.0" font-size="20.00" font-weight="normal" font-style="normal" fill="#000" text-anchor="start" >-1500</text>
<text x="220.3" y="529.5" font-size="20.00" font-weight="normal" font-style="normal" fill="#000" text-anchor="start" >MetH</text>
<text x="220.3" y="552.0" font-size="20.00" font-weight="normal" font-style="normal" fill="#000" text-anchor="start" >-1400</text>
<text x="14.3" y="582.5" font-size="20.00" font-weight="normal" font-style="normal" fill="#000" text-anchor="start" >IlvE</text>
<text x="14.3" y="605.0" font-size="20.00" font-weight="normal" font-style="normal" fill="#000" text-anchor="start" >-1200</text>
<text x="82.8" y="582.5" font-size="20.00" font-weight="normal" font-style="normal" fill="#000" text-anchor="start" >Sya</text>
<text x="82.8" y="605.0" font-size="20.00" font-weight="normal" font-style="normal" fill="#000" text-anchor="start" >-1200</text>
<text x="151.8" y="582.5" font-size="20.00" font-weight="normal" font-style="normal" fill="#000" text-anchor="start" >TolB</text>
<text x="151.8" y="605.0" font-size="20.00" font-weight="normal" font-style="normal" fill="#000" text-anchor="start" >-1100</text>
<text x="220.3" y="582.5" font-size="20.00" font-weight="normal" font-style="normal" fill="#000" text-anchor="start" >PurA</text>
<text x="220.3" y="605.0" font-size="20.00" font-weight="normal" font-style="normal" fill="#000" text-anchor="start" >-1100</text>
<text x="14.3" y="635.2" font-size="20.00" font-weight="normal" font-style="normal" fill="#000" text-anchor="start" >Sys</text>
<text x="14.3" y="657.7" font-size="20.00" font-weight="normal" font-style="normal" fill="#000" text-anchor="start" >-1000</text>
<text x="82.8" y="635.2" font-size="20.00" font-weight="bold" font-style="normal" fill="#000" text-anchor="start" >AroG</text>
<text x="82.8" y="657.7" font-size="20.00" font-weight="normal" font-style="normal" fill="#000" text-anchor="start" >-1000</text>
<text x="151.8" y="635.2" font-size="20.00" font-weight="bold" font-style="normal" fill="#000" text-anchor="start" >GapA</text>
<text x="151.8" y="657.7" font-size="20.00" font-weight="normal" font-style="normal" fill="#000" text-anchor="start" >-900</text>
<text x="220.3" y="635.2" font-size="20.00" font-weight="bold" font-style="normal" fill="#000" text-anchor="start" >Eno</text>
<text x="220.3" y="657.7" font-size="20.00" font-weight="normal" font-style="normal" fill="#000" text-anchor="start" >-900</text>
<text x="14.3" y="688.2" font-size="20.00" font-weight="bold" font-style="normal" fill="#000" text-anchor="start" >Pgk</text>
<text x="14.3" y="710.7" font-size="20.00" font-weight="normal" font-style="normal" fill="#000" text-anchor="start" >-900</text>
<text x="82.8" y="688.2" font-size="20.00" font-weight="bold" font-style="normal" fill="#000" text-anchor="start" >GpmA</text>
<text x="82.8" y="710.7" font-size="20.00" font-weight="normal" font-style="normal" fill="#000" text-anchor="start" >-900</text>
<text x="151.8" y="688.2" font-size="20.00" font-weight="normal" font-style="normal" fill="#000" text-anchor="start" >DapD</text>
<text x="151.8" y="710.7" font-size="20.00" font-weight="normal" font-style="normal" fill="#000" text-anchor="start" >-800</text>
<text x="220.3" y="688.2" font-size="20.00" font-weight="normal" font-style="normal" fill="#000" text-anchor="start" >SyfB</text>
<text x="220.3" y="710.7" font-size="20.00" font-weight="normal" font-style="normal" fill="#000" text-anchor="start" >-800</text>
<line x1="10.0" y1="386.5" x2="285.0" y2="386.5" stroke="#333" stroke-width="1.00"/>
<line x1="10.0" y1="420.5" x2="285.0" y2="420.5" stroke="#333" stroke-width="1.00"/>
<line x1="10.0" y1="473.5" x2="285.0" y2="473.5" stroke="#333" stroke-width="1.00"/>
<line x1="10.0" y1="507.5" x2="285.0" y2="507.5" stroke="#333" stroke-width="1.00"/>
<line x1="10.0" y1="560.5" x2="285.0" y2="560.5" stroke="#333" stroke-width="1.00"/>
<line x1="10.0" y1="613.5" x2="285.0" y2="613.5" stroke="#333" stroke-width="1.00"/>
<line x1="10.0" y1="665.5" x2="285.0" y2="665.5" stroke="#333" stroke-width="1.00"/>
<line x1="10.0" y1="717.5" x2="285.0" y2="717.5" stroke="#333" stroke-width="1.00"/>
<line x1="10.5" y1="386.0" x2="10.5" y2="718.0" stroke="#333" stroke-width="1.00"/>
<line x1="284.5" y1="386.0" x2="284.5" y2="718.0" stroke="#333" stroke-width="1.00"/>
<line x1="78.5" y1="420.5" x2="78.5" y2="473.5" stroke="#444" stroke-width="1.00"/>
<line x1="78.5" y1="507.5" x2="78.5" y2="717.5" stroke="#444" stroke-width="1.00"/>
<line x1="147.5" y1="420.5" x2="147.5" y2="473.5" stroke="#444" stroke-width="1.00"/>
<line x1="147.5" y1="507.5" x2="147.5" y2="717.5" stroke="#444" stroke-width="1.00"/>
<line x1="216.2" y1="420.5" x2="216.2" y2="473.5" stroke="#444" stroke-width="1.00"/>
<line x1="216.2" y1="507.5" x2="216.2" y2="717.5" stroke="#444" stroke-width="1.00"/>
</svg></body></html>
